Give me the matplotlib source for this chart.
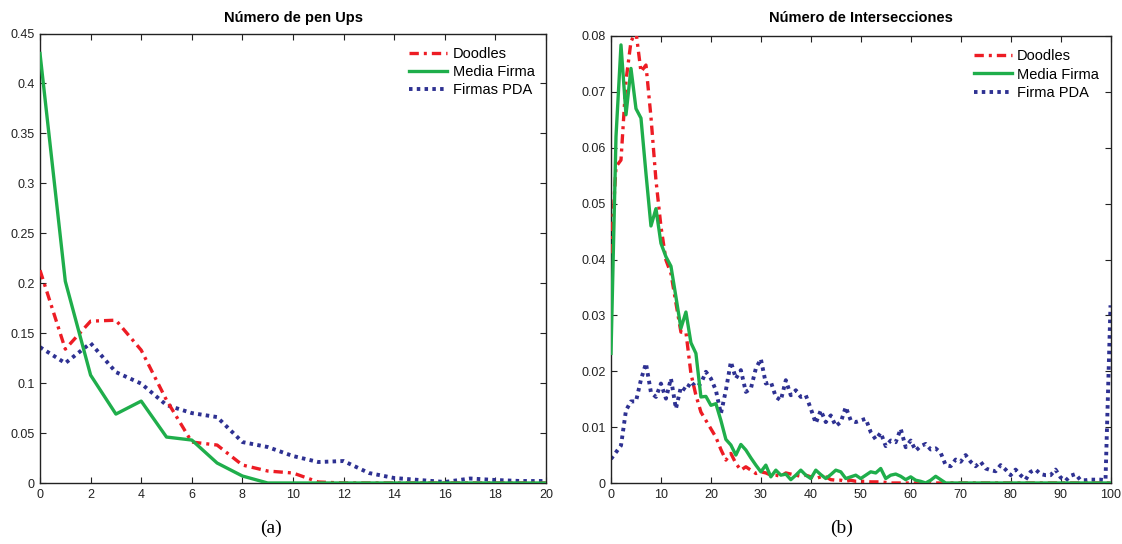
import numpy as np
import matplotlib
matplotlib.use("Agg")
import matplotlib.pyplot as plt

plt.rcParams['font.family'] = ['Liberation Sans', 'DejaVu Sans']

# ---------------- data ----------------
title_a = "Número de pen Ups"
title_b = "Número de Intersecciones"
labels_a = ["Doodles", "Media Firma", "Firmas PDA"]
labels_b = ["Doodles", "Media Firma", "Firma PDA"]

x_a = list(range(0, 21))
doodles_a = [0.213, 0.134, 0.162, 0.163, 0.133, 0.083, 0.041, 0.038, 0.018, 0.012,
             0.010, 0.001, 0.0, 0.0, 0.0, 0.0, 0.0, 0.0, 0.0, 0.0, 0.0]
media_a = [0.430, 0.202, 0.108, 0.069, 0.082, 0.046, 0.043, 0.020, 0.007, 0.0,
           0.0, 0.0, 0.0, 0.0, 0.0, 0.0, 0.0, 0.0, 0.0, 0.0, 0.0]
pda_a = [0.136, 0.120, 0.140, 0.111, 0.0995, 0.078, 0.070, 0.066, 0.041, 0.036,
         0.027, 0.021, 0.022, 0.010, 0.005, 0.003, 0.001, 0.0045, 0.003, 0.002, 0.002]

x_b = list(range(0, 101))
doodles_b = [0.0411, 0.0566, 0.0578, 0.0720, 0.0790, 0.0808, 0.0736, 0.0748, 0.0655, 0.0542,
             0.0459, 0.0399, 0.0375, 0.0322, 0.0270, 0.0270, 0.0196, 0.0157, 0.0127, 0.0112,
             0.0097, 0.0082, 0.0060, 0.0041, 0.0053, 0.0035, 0.0023, 0.0029, 0.0023, 0.0017,
             0.0020, 0.0018, 0.0014, 0.0014, 0.0012, 0.0018, 0.0016, 0.0014, 0.0012, 0.0014,
             0.0011, 0.0008, 0.0011, 0.0011, 0.0006, 0.0005, 0.0005, 0.0003, 0.0005, 0.0003,
             0.0003, 0.0003, 0.0002, 0.0002, 0.0002, 0.0001] + [0.0] * 45
media_b = [0.0232, 0.0620, 0.0784, 0.0659, 0.0742, 0.0670, 0.0653, 0.0554, 0.0460, 0.0491,
           0.0429, 0.0405, 0.0388, 0.0333, 0.0277, 0.0306, 0.0251, 0.0232, 0.0154, 0.0155,
           0.0139, 0.0142, 0.0112, 0.0078, 0.0068, 0.0050, 0.0069, 0.0059, 0.0045, 0.0032,
           0.0020, 0.0032, 0.0011, 0.0023, 0.0014, 0.0016, 0.0006, 0.0014, 0.0023, 0.0014,
           0.0008, 0.0023, 0.0015, 0.0008, 0.0015, 0.0023, 0.0020, 0.0008, 0.0011, 0.0014,
           0.0008, 0.0014, 0.0020, 0.0018, 0.0026, 0.0008, 0.0014, 0.0016, 0.0012, 0.0006,
           0.0011, 0.0005, 0.0003, 0.0000, 0.0005, 0.0012, 0.0006] + [0.0] * 34
pda_b = [0.0043, 0.0055, 0.0067, 0.0130, 0.0146, 0.0146, 0.0185, 0.0214, 0.0162, 0.0154,
         0.0178, 0.0151, 0.0187, 0.0133, 0.0172, 0.0166, 0.0181, 0.0172, 0.0178, 0.0199,
         0.0187, 0.0166, 0.0124, 0.0166, 0.0217, 0.0187, 0.0202, 0.0163, 0.0169, 0.0205,
         0.0222, 0.0178, 0.0181, 0.0154, 0.0148, 0.0184, 0.0157, 0.0166, 0.0154, 0.0157,
         0.0133, 0.0107, 0.0130, 0.0109, 0.0121, 0.0102, 0.0109, 0.0136, 0.0112, 0.0109,
         0.0112, 0.0115, 0.0091, 0.0078, 0.0090, 0.0066, 0.0076, 0.0073, 0.0097, 0.0064,
         0.0076, 0.0058, 0.0066, 0.0070, 0.0060, 0.0062, 0.0054, 0.0032, 0.0030, 0.0042,
         0.0038, 0.0050, 0.0038, 0.0030, 0.0038, 0.0026, 0.0023, 0.0021, 0.0032, 0.0024,
         0.0014, 0.0024, 0.0014, 0.0006, 0.0020, 0.0024, 0.0016, 0.0014, 0.0014, 0.0024,
         0.0010, 0.0004, 0.0013, 0.0016, 0.0005, 0.0005, 0.0006, 0.0006, 0.0006, 0.0005,
         0.0318]

xticks_a = list(range(0, 21, 2))
yticks_a = [0, 0.05, 0.1, 0.15, 0.2, 0.25, 0.3, 0.35, 0.4, 0.45]
yticklabels_a = ["0", "0.05", "0.1", "0.15", "0.2", "0.25", "0.3", "0.35", "0.4", "0.45"]
xticks_b = list(range(0, 101, 10))
yticks_b = [0, 0.01, 0.02, 0.03, 0.04, 0.05, 0.06, 0.07, 0.08]
yticklabels_b = ["0", "0.01", "0.02", "0.03", "0.04", "0.05", "0.06", "0.07", "0.08"]

# ---------------- style ----------------
RED = '#ed1c24'
GREEN = '#1fae4b'
BLUE = '#2e3192'
LW = 2.4

fig = plt.figure(figsize=(11.22, 5.44), dpi=100)
ax1 = fig.add_axes([40 / 1122, 1 - 483 / 544, 506 / 1122, 449.5 / 544])
ax2 = fig.add_axes([611 / 1122, 1 - 483 / 544, 499.5 / 1122, 447 / 544])


def style(ax, xt, yt, ytl, xlim, ylim, title, tpad):
    ax.set_xlim(*xlim)
    ax.set_ylim(*ylim)
    ax.set_xticks(xt)
    ax.set_xticklabels([str(v) for v in xt])
    ax.set_yticks(yt)
    ax.set_yticklabels(ytl)
    ax.tick_params(direction='in', length=4, width=0.8, top=True, right=True,
                   labelsize=9, colors='#222222', pad=4)
    for s in ax.spines.values():
        s.set_linewidth(1.0)
        s.set_color('#222222')
    ax.set_title(title, fontsize=10.5, fontweight='bold', pad=tpad)


def draw(ax, x, d, m, p, labels):
    ax.plot(x, d, color=RED, lw=LW, dashes=(2.8, 1.5, 0.9, 1.5), dash_capstyle='butt',
            label=labels[0], zorder=3)
    ax.plot(x, m, color=GREEN, lw=LW, label=labels[1], zorder=4)
    ax.plot(x, p, color=BLUE, lw=LW + 0.4, dashes=(0.9, 1.1), dash_capstyle='butt',
            label=labels[2], zorder=2)


draw(ax1, x_a, doodles_a, media_a, pda_a, labels_a)
draw(ax2, x_b, doodles_b, media_b, pda_b, labels_b)
style(ax1, xticks_a, yticks_a, yticklabels_a, (0, 20), (0, 0.45), title_a, 8)
style(ax2, xticks_b, yticks_b, yticklabels_b, (0, 100), (0, 0.08), title_b, 10)

for ax, bx in ((ax1, 1.003), (ax2, 1.003)):
    ax.legend(loc='upper right', frameon=False, fontsize=10.5, handlelength=2.6,
              handletextpad=0.35, labelspacing=0.3, borderaxespad=0.5,
              bbox_to_anchor=(bx, 1.0))

fig.text(271 / 1122, 1 - 528 / 544, "(a)", ha='center', va='center',
         fontsize=14, family=['Liberation Serif', 'DejaVu Serif'])
fig.text(842 / 1122, 1 - 528 / 544, "(b)", ha='center', va='center',
         fontsize=14, family=['Liberation Serif', 'DejaVu Serif'])

fig.savefig("out.png", dpi=100)
